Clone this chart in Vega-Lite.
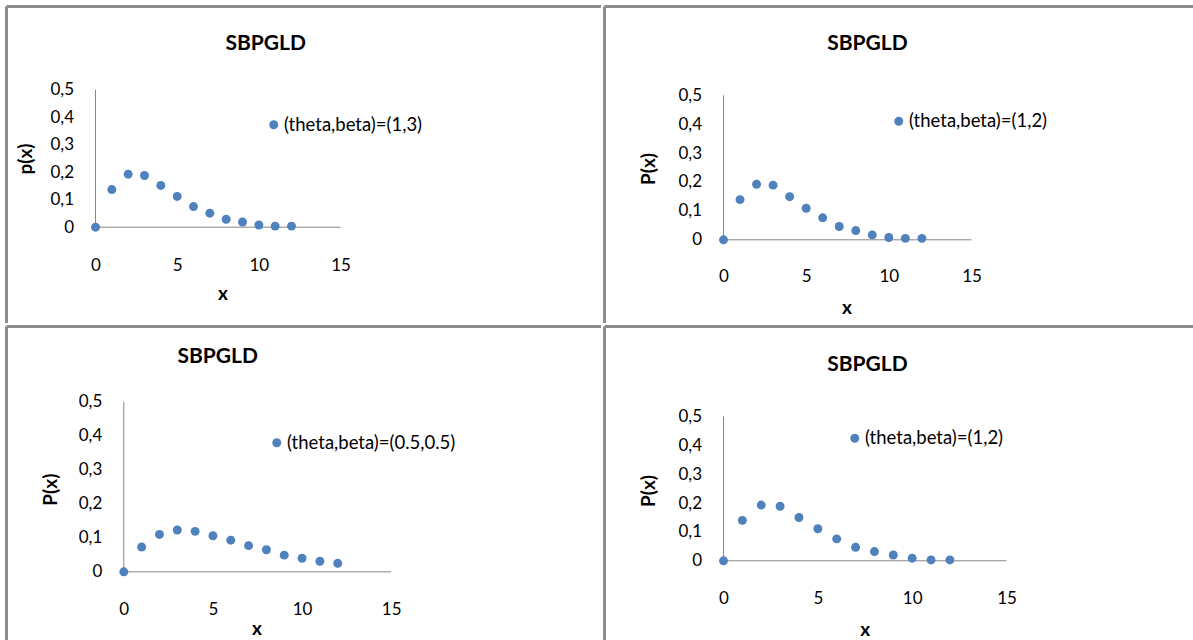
{
  "$schema": "https://vega.github.io/schema/vega-lite/v6.json",
  "padding": {"left": 4.5, "top": 4.5, "right": 0, "bottom": 0},
  "background": "white",
  "config": {
    "view": {"stroke": null},
    "font": "Lato",
    "concat": {"spacing": 0},
    "axis": {"grid": false, "domain": false, "ticks": false, "tickSize": 0, "labelFont": "Lato", "labelFontSize": 17, "labelColor": "#000000", "titleFont": "Lato", "titleFontSize": 19, "titleFontWeight": "bold", "titleColor": "#000000"},
    "legend": {"labelFont": "Lato", "labelFontSize": 18.5, "labelColor": "#000000", "labelLimit": 400, "padding": 0, "symbolType": "circle", "symbolSize": 80, "labelOffset": 1},
    "title": {"font": "Lato", "fontSize": 21, "fontWeight": "bold", "color": "#000000"}
  },
  "datasets": {
    "d": [
      {"panel": "p1", "series": "(theta,beta)=(1,3)", "x": 0, "p": 0},
      {"panel": "p1", "series": "(theta,beta)=(1,3)", "x": 1, "p": 0.137},
      {"panel": "p1", "series": "(theta,beta)=(1,3)", "x": 2, "p": 0.193},
      {"panel": "p1", "series": "(theta,beta)=(1,3)", "x": 3, "p": 0.188},
      {"panel": "p1", "series": "(theta,beta)=(1,3)", "x": 4, "p": 0.152},
      {"panel": "p1", "series": "(theta,beta)=(1,3)", "x": 5, "p": 0.112},
      {"panel": "p1", "series": "(theta,beta)=(1,3)", "x": 6, "p": 0.075},
      {"panel": "p1", "series": "(theta,beta)=(1,3)", "x": 7, "p": 0.051},
      {"panel": "p1", "series": "(theta,beta)=(1,3)", "x": 8, "p": 0.029},
      {"panel": "p1", "series": "(theta,beta)=(1,3)", "x": 9, "p": 0.019},
      {"panel": "p1", "series": "(theta,beta)=(1,3)", "x": 10, "p": 0.008},
      {"panel": "p1", "series": "(theta,beta)=(1,3)", "x": 11, "p": 0.004},
      {"panel": "p1", "series": "(theta,beta)=(1,3)", "x": 12, "p": 0.004},
      {"panel": "p2", "series": "(theta,beta)=(1,2)", "x": 0, "p": 0},
      {"panel": "p2", "series": "(theta,beta)=(1,2)", "x": 1, "p": 0.139},
      {"panel": "p2", "series": "(theta,beta)=(1,2)", "x": 2, "p": 0.192},
      {"panel": "p2", "series": "(theta,beta)=(1,2)", "x": 3, "p": 0.189},
      {"panel": "p2", "series": "(theta,beta)=(1,2)", "x": 4, "p": 0.149},
      {"panel": "p2", "series": "(theta,beta)=(1,2)", "x": 5, "p": 0.109},
      {"panel": "p2", "series": "(theta,beta)=(1,2)", "x": 6, "p": 0.076},
      {"panel": "p2", "series": "(theta,beta)=(1,2)", "x": 7, "p": 0.046},
      {"panel": "p2", "series": "(theta,beta)=(1,2)", "x": 8, "p": 0.032},
      {"panel": "p2", "series": "(theta,beta)=(1,2)", "x": 9, "p": 0.017},
      {"panel": "p2", "series": "(theta,beta)=(1,2)", "x": 10, "p": 0.008},
      {"panel": "p2", "series": "(theta,beta)=(1,2)", "x": 11, "p": 0.005},
      {"panel": "p2", "series": "(theta,beta)=(1,2)", "x": 12, "p": 0.005},
      {"panel": "p3", "series": "(theta,beta)=(0.5,0.5)", "x": 0, "p": 0},
      {"panel": "p3", "series": "(theta,beta)=(0.5,0.5)", "x": 1, "p": 0.073},
      {"panel": "p3", "series": "(theta,beta)=(0.5,0.5)", "x": 2, "p": 0.110},
      {"panel": "p3", "series": "(theta,beta)=(0.5,0.5)", "x": 3, "p": 0.123},
      {"panel": "p3", "series": "(theta,beta)=(0.5,0.5)", "x": 4, "p": 0.119},
      {"panel": "p3", "series": "(theta,beta)=(0.5,0.5)", "x": 5, "p": 0.106},
      {"panel": "p3", "series": "(theta,beta)=(0.5,0.5)", "x": 6, "p": 0.093},
      {"panel": "p3", "series": "(theta,beta)=(0.5,0.5)", "x": 7, "p": 0.077},
      {"panel": "p3", "series": "(theta,beta)=(0.5,0.5)", "x": 8, "p": 0.065},
      {"panel": "p3", "series": "(theta,beta)=(0.5,0.5)", "x": 9, "p": 0.049},
      {"panel": "p3", "series": "(theta,beta)=(0.5,0.5)", "x": 10, "p": 0.040},
      {"panel": "p3", "series": "(theta,beta)=(0.5,0.5)", "x": 11, "p": 0.031},
      {"panel": "p3", "series": "(theta,beta)=(0.5,0.5)", "x": 12, "p": 0.025},
      {"panel": "p4", "series": "(theta,beta)=(1,2)", "x": 0, "p": 0},
      {"panel": "p4", "series": "(theta,beta)=(1,2)", "x": 1, "p": 0.140},
      {"panel": "p4", "series": "(theta,beta)=(1,2)", "x": 2, "p": 0.193},
      {"panel": "p4", "series": "(theta,beta)=(1,2)", "x": 3, "p": 0.189},
      {"panel": "p4", "series": "(theta,beta)=(1,2)", "x": 4, "p": 0.150},
      {"panel": "p4", "series": "(theta,beta)=(1,2)", "x": 5, "p": 0.111},
      {"panel": "p4", "series": "(theta,beta)=(1,2)", "x": 6, "p": 0.076},
      {"panel": "p4", "series": "(theta,beta)=(1,2)", "x": 7, "p": 0.047},
      {"panel": "p4", "series": "(theta,beta)=(1,2)", "x": 8, "p": 0.032},
      {"panel": "p4", "series": "(theta,beta)=(1,2)", "x": 9, "p": 0.020},
      {"panel": "p4", "series": "(theta,beta)=(1,2)", "x": 10, "p": 0.009},
      {"panel": "p4", "series": "(theta,beta)=(1,2)", "x": 11, "p": 0.003},
      {"panel": "p4", "series": "(theta,beta)=(1,2)", "x": 12, "p": 0.003}
    ],
    "one": [{}]
  },
  "spacing": 0,
  "resolve": {"scale": {"x": "independent", "y": "independent", "color": "independent"}, "legend": {"color": "independent"}, "axis": {"x": "independent", "y": "independent"}},
  "vconcat": [
    {
      "spacing": 0,
      "resolve": {"scale": {"x": "independent", "y": "independent", "color": "independent"}, "legend": {"color": "independent"}, "axis": {"x": "independent", "y": "independent"}},
      "hconcat": [
        {
          "width": 594.5, "height": 316.5,
          "title": {"text": "SBPGLD", "anchor": "middle", "frame": "group", "offset": -48.5, "dx": -38},
          "layer": [
            {"data": {"name": "one"}, "mark": {"type": "rule", "color": "#8c8c8c", "strokeWidth": 3},
             "encoding": {"x": {"datum": -5.449, "type": "quantitative", "scale": {"domain": [-5.449, 30.949], "nice": false, "zero": false}}}},
            {"data": {"name": "one"}, "mark": {"type": "rule", "color": "#8c8c8c", "strokeWidth": 3},
             "encoding": {"y": {"datum": 0.8031, "type": "quantitative", "scale": {"domain": [-0.3486, 0.8031], "nice": false, "zero": false}}}},
            {"data": {"name": "one"}, "mark": {"type": "rule", "color": "#868686", "strokeWidth": 1},
             "encoding": {"x": {"datum": 0, "type": "quantitative", "scale": {"domain": [-5.449, 30.949], "nice": false, "zero": false}}, "x2": {"datum": 15}, "y": {"datum": 0, "type": "quantitative", "scale": {"domain": [-0.3486, 0.8031], "nice": false, "zero": false}}}},
            {"data": {"name": "one"}, "mark": {"type": "rule", "color": "#868686", "strokeWidth": 1},
             "encoding": {"x": {"datum": 0, "type": "quantitative", "scale": {"domain": [-5.449, 30.949], "nice": false, "zero": false}}, "y": {"datum": 0, "type": "quantitative", "scale": {"domain": [-0.3486, 0.8031], "nice": false, "zero": false}}, "y2": {"datum": 0.5}}},
            {"data": {"name": "d"},
             "transform": [{"filter": "datum.panel == 'p1'"}],
             "mark": {"type": "point", "filled": true, "opacity": 1, "size": 80},
             "encoding": {
               "x": {"field": "x", "type": "quantitative", "scale": {"domain": [-5.449, 30.949], "nice": false, "zero": false},
                     "axis": {"title": "x", "values": [0, 5, 10, 15], "offset": -95.8, "labelPadding": 30, "titleX": 216, "titleY": 66, "titleBaseline": "middle", "titleAlign": "center"}},
               "y": {"field": "p", "type": "quantitative", "scale": {"domain": [-0.3486, 0.8031], "nice": false, "zero": false},
                     "axis": {"title": "p(x)", "values": [0, 0.1, 0.2, 0.3, 0.4, 0.5], "offset": -89, "labelPadding": 22, "labelExpr": "datum.value == 0 ? '0' : replace(format(datum.value, '.1f'), '.', ',')", "titleX": -70, "titleY": 152, "titleBaseline": "middle", "titleAlign": "center", "titleAngle": -90}},
               "color": {"field": "series", "type": "nominal", "scale": {"range": ["#4F81BD"]},
                         "legend": {"title": null, "orient": "none", "legendX": 258, "legendY": 109}}
             }}
          ]
        },
        {
          "width": 591, "height": 316.5,
          "title": {"text": "SBPGLD", "anchor": "middle", "frame": "group", "offset": -48.5, "dx": -32.5},
          "layer": [
            {"data": {"name": "one"}, "mark": {"type": "rule", "color": "#8c8c8c", "strokeWidth": 3},
             "encoding": {"x": {"datum": -7.198, "type": "quantitative", "scale": {"domain": [-7.198, 28.548], "nice": false, "zero": false}}}},
            {"data": {"name": "one"}, "mark": {"type": "rule", "color": "#8c8c8c", "strokeWidth": 3},
             "encoding": {"y": {"datum": 0.8067, "type": "quantitative", "scale": {"domain": [-0.2877, 0.8067], "nice": false, "zero": false}}}},
            {"data": {"name": "one"}, "mark": {"type": "rule", "color": "#868686", "strokeWidth": 1},
             "encoding": {"x": {"datum": 0, "type": "quantitative", "scale": {"domain": [-7.198, 28.548], "nice": false, "zero": false}}, "x2": {"datum": 15}, "y": {"datum": 0, "type": "quantitative", "scale": {"domain": [-0.2877, 0.8067], "nice": false, "zero": false}}}},
            {"data": {"name": "one"}, "mark": {"type": "rule", "color": "#868686", "strokeWidth": 1},
             "encoding": {"x": {"datum": 0, "type": "quantitative", "scale": {"domain": [-7.198, 28.548], "nice": false, "zero": false}}, "y": {"datum": 0, "type": "quantitative", "scale": {"domain": [-0.2877, 0.8067], "nice": false, "zero": false}}, "y2": {"datum": 0.5}}},
            {"data": {"name": "d"},
             "transform": [{"filter": "datum.panel == 'p2'"}],
             "mark": {"type": "point", "filled": true, "opacity": 1, "size": 80},
             "encoding": {
               "x": {"field": "x", "type": "quantitative", "scale": {"domain": [-7.198, 28.548], "nice": false, "zero": false},
                     "axis": {"title": "x", "values": [0, 5, 10, 15], "offset": -83.2, "labelPadding": 29, "titleX": 242, "titleY": 67.7, "titleBaseline": "middle", "titleAlign": "center"}},
               "y": {"field": "p", "type": "quantitative", "scale": {"domain": [-0.2877, 0.8067], "nice": false, "zero": false},
                     "axis": {"title": "P(x)", "values": [0, 0.1, 0.2, 0.3, 0.4, 0.5], "offset": -119, "labelPadding": 22, "labelExpr": "datum.value == 0 ? '0' : replace(format(datum.value, '.1f'), '.', ',')", "titleX": -75.3, "titleY": 162, "titleBaseline": "middle", "titleAlign": "center", "titleAngle": -90}},
               "color": {"field": "series", "type": "nominal", "scale": {"range": ["#4F81BD"]},
                         "legend": {"title": null, "orient": "none", "legendX": 285, "legendY": 105.5}}
             }}
          ]
        }
      ]
    },
    {
      "spacing": 0,
      "resolve": {"scale": {"x": "independent", "y": "independent", "color": "independent"}, "legend": {"color": "independent"}, "axis": {"x": "independent", "y": "independent"}},
      "hconcat": [
        {
          "width": 594.5, "height": 316,
          "title": {"text": "SBPGLD", "anchor": "middle", "frame": "group", "offset": -42, "dx": -86},
          "layer": [
            {"data": {"name": "one"}, "mark": {"type": "rule", "color": "#8c8c8c", "strokeWidth": 3},
             "encoding": {"x": {"datum": -6.58, "type": "quantitative", "scale": {"domain": [-6.58, 26.769], "nice": false, "zero": false}}}},
            {"data": {"name": "one"}, "mark": {"type": "rule", "color": "#8c8c8c", "strokeWidth": 3},
             "encoding": {"y": {"datum": 0.7215, "type": "quantitative", "scale": {"domain": [-0.2079, 0.7215], "nice": false, "zero": false}}}},
            {"data": {"name": "one"}, "mark": {"type": "rule", "color": "#868686", "strokeWidth": 1},
             "encoding": {"x": {"datum": 0, "type": "quantitative", "scale": {"domain": [-6.58, 26.769], "nice": false, "zero": false}}, "x2": {"datum": 15}, "y": {"datum": 0, "type": "quantitative", "scale": {"domain": [-0.2079, 0.7215], "nice": false, "zero": false}}}},
            {"data": {"name": "one"}, "mark": {"type": "rule", "color": "#868686", "strokeWidth": 1},
             "encoding": {"x": {"datum": 0, "type": "quantitative", "scale": {"domain": [-6.58, 26.769], "nice": false, "zero": false}}, "y": {"datum": 0, "type": "quantitative", "scale": {"domain": [-0.2079, 0.7215], "nice": false, "zero": false}}, "y2": {"datum": 0.5}}},
            {"data": {"name": "d"},
             "transform": [{"filter": "datum.panel == 'p3'"}],
             "mark": {"type": "point", "filled": true, "opacity": 1, "size": 80},
             "encoding": {
               "x": {"field": "x", "type": "quantitative", "scale": {"domain": [-6.58, 26.769], "nice": false, "zero": false},
                     "axis": {"title": "x", "values": [0, 5, 10, 15], "offset": -70.7, "labelPadding": 30, "titleX": 250, "titleY": 56.7, "titleBaseline": "middle", "titleAlign": "center"}},
               "y": {"field": "p", "type": "quantitative", "scale": {"domain": [-0.2079, 0.7215], "nice": false, "zero": false},
                     "axis": {"title": "P(x)", "values": [0, 0.1, 0.2, 0.3, 0.4, 0.5], "offset": -117.3, "labelPadding": 22, "labelExpr": "datum.value == 0 ? '0' : replace(format(datum.value, '.1f'), '.', ',')", "titleX": -73.3, "titleY": 162.7, "titleBaseline": "middle", "titleAlign": "center", "titleAngle": -90}},
               "color": {"field": "series", "type": "nominal", "scale": {"range": ["#4F81BD"]},
                         "legend": {"title": null, "orient": "none", "legendX": 261, "legendY": 107}}
             }}
          ]
        },
        {
          "width": 591, "height": 316,
          "title": {"text": "SBPGLD", "anchor": "middle", "frame": "group", "offset": -49.5, "dx": -32.5},
          "layer": [
            {"data": {"name": "one"}, "mark": {"type": "rule", "color": "#8c8c8c", "strokeWidth": 3},
             "encoding": {"x": {"datum": -6.307, "type": "quantitative", "scale": {"domain": [-6.307, 25.017], "nice": false, "zero": false}}}},
            {"data": {"name": "one"}, "mark": {"type": "rule", "color": "#8c8c8c", "strokeWidth": 3},
             "encoding": {"y": {"datum": 0.8118, "type": "quantitative", "scale": {"domain": [-0.2831, 0.8118], "nice": false, "zero": false}}}},
            {"data": {"name": "one"}, "mark": {"type": "rule", "color": "#868686", "strokeWidth": 1},
             "encoding": {"x": {"datum": 0, "type": "quantitative", "scale": {"domain": [-6.307, 25.017], "nice": false, "zero": false}}, "x2": {"datum": 15}, "y": {"datum": 0, "type": "quantitative", "scale": {"domain": [-0.2831, 0.8118], "nice": false, "zero": false}}}},
            {"data": {"name": "one"}, "mark": {"type": "rule", "color": "#868686", "strokeWidth": 1},
             "encoding": {"x": {"datum": 0, "type": "quantitative", "scale": {"domain": [-6.307, 25.017], "nice": false, "zero": false}}, "y": {"datum": 0, "type": "quantitative", "scale": {"domain": [-0.2831, 0.8118], "nice": false, "zero": false}}, "y2": {"datum": 0.5}}},
            {"data": {"name": "d"},
             "transform": [{"filter": "datum.panel == 'p4'"}],
             "mark": {"type": "point", "filled": true, "opacity": 1, "size": 80},
             "encoding": {
               "x": {"field": "x", "type": "quantitative", "scale": {"domain": [-6.307, 25.017], "nice": false, "zero": false},
                     "axis": {"title": "x", "values": [0, 5, 10, 15], "offset": -81.7, "labelPadding": 30, "titleX": 260.3, "titleY": 68.4, "titleBaseline": "middle", "titleAlign": "center"}},
               "y": {"field": "p", "type": "quantitative", "scale": {"domain": [-0.2831, 0.8118], "nice": false, "zero": false},
                     "axis": {"title": "P(x)", "values": [0, 0.1, 0.2, 0.3, 0.4, 0.5], "offset": -119, "labelPadding": 22, "labelExpr": "datum.value == 0 ? '0' : replace(format(datum.value, '.1f'), '.', ',')", "titleX": -75.3, "titleY": 164, "titleBaseline": "middle", "titleAlign": "center", "titleAngle": -90}},
               "color": {"field": "series", "type": "nominal", "scale": {"range": ["#4F81BD"]},
                         "legend": {"title": null, "orient": "none", "legendX": 241, "legendY": 102.5}}
             }}
          ]
        }
      ]
    }
  ]
}
